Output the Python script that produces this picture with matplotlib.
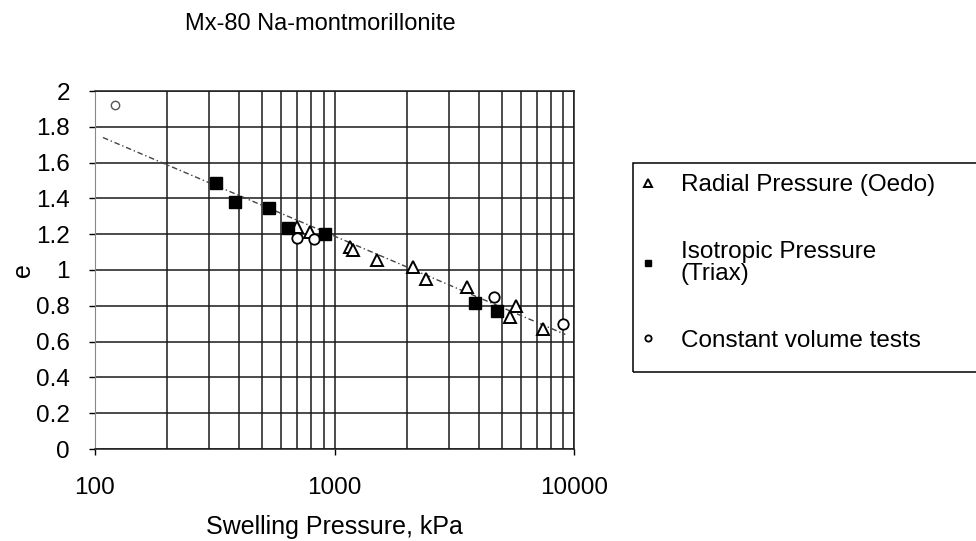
import numpy as np
import matplotlib.pyplot as plt
from matplotlib.patches import Rectangle
from matplotlib.ticker import LogLocator, FixedLocator, NullFormatter

plt.rcParams['font.family'] = ['Liberation Sans', 'DejaVu Sans']

# data (swelling pressure in kPa, void ratio e)
radial_p = [700, 790, 1160, 1200, 1500, 2130, 2400, 3570, 5730, 5400, 7400]
radial_e = [1.24, 1.21, 1.13, 1.11, 1.056, 1.017, 0.95, 0.905, 0.80, 0.74, 0.67]

iso_p = [320, 385, 533, 640, 910, 3870, 4760]
iso_e = [1.485, 1.38, 1.345, 1.235, 1.20, 0.815, 0.77]

const_p = [121, 700, 820, 4650, 9000]
const_e = [1.92, 1.18, 1.175, 0.85, 0.70]

fit_p = [108, 9200]
fit_e = [1.74, 0.64]

y_ticks = [0, 0.2, 0.4, 0.6, 0.8, 1, 1.2, 1.4, 1.6, 1.8, 2]
y_labels = ['0', '0.2', '0.4', '0.6', '0.8', '1', '1.2', '1.4', '1.6', '1.8', '2']

fig = plt.figure(figsize=(9.76, 5.41), dpi=100)
ax = fig.add_axes([95/976, 1-449/541, 479/976, 358/541])

ax.set_xscale('log')
ax.set_xlim(100, 10000)
ax.set_ylim(0, 2)

# grid (every decade subdivision and every 0.2)
ax.xaxis.set_major_locator(FixedLocator([100, 1000, 10000]))
ax.xaxis.set_minor_locator(LogLocator(base=10, subs=np.arange(2, 10)))
ax.xaxis.set_minor_formatter(NullFormatter())
ax.set_xticklabels(['100', '1000', '10000'])
ax.set_yticks(y_ticks)
ax.set_yticklabels(y_labels)
ax.grid(True, which='both', color='#1a1a1a', lw=1.1)
ax.set_axisbelow(True)

ax.tick_params(axis='x', which='major', length=4, width=1, pad=16, labelsize=17.5)
ax.tick_params(axis='x', which='minor', length=0)
ax.tick_params(axis='y', length=4, width=1, pad=14, labelsize=17.5)
for s in ['top', 'right', 'bottom']:
    ax.spines[s].set_color('#1a1a1a')
    ax.spines[s].set_linewidth(1.1)
ax.spines['left'].set_color('#888888')

ax.plot(fit_p, fit_e, color='#444444', lw=1.0, ls=(0, (4, 2, 1, 2)), zorder=2)

h1, = ax.plot(radial_p, radial_e, ls='none', marker='^', ms=8.5, mfc='white',
              mec='black', mew=1.4, zorder=3)
h2, = ax.plot(iso_p, iso_e, ls='none', marker='s', ms=8, mfc='black',
              mec='black', zorder=4)
h3, = ax.plot(const_p, const_e, ls='none', marker='o', ms=7.5, mfc='white',
              mec='black', mew=1.3, zorder=3)
# the first circle is small and faint in the picture
h3.set_markevery([1, 2, 3, 4])
ax.plot(const_p[:1], const_e[:1], ls='none', marker='o', ms=6, mfc='white',
        mec='#555555', mew=1.0, zorder=3)

ax.set_xlabel('Swelling Pressure, kPa', fontsize=18)
ax.xaxis.set_label_coords(0.5, -0.185)
ax.set_ylabel('e', fontsize=18)
ax.yaxis.set_label_coords(-0.125, 0.5)

fig.text(185/976, 1-24/541, 'Mx-80 Na-montmorillonite', fontsize=17,
         ha='left', va='center')

# legend box
fig.patches.append(Rectangle((633/976, 1-372/541), 345/976, 209/541,
                             transform=fig.transFigure, fill=False,
                             ec='black', lw=1.1))
leg = fig.legend([h1, h2, h3],
                 ['Radial Pressure (Oedo)', 'Isotropic Pressure\n(Triax)',
                  'Constant volume tests'],
                 loc='upper left', bbox_to_anchor=(640/976, 1-174/541),
                 frameon=False, fontsize=17.5, markerscale=0.6,
                 handlelength=0.68, handletextpad=1.0, labelspacing=1.85,
                 borderpad=0, borderaxespad=0)
for t in leg.get_texts():
    t.set_linespacing(1.0)

fig.savefig('out.png', dpi=100)
